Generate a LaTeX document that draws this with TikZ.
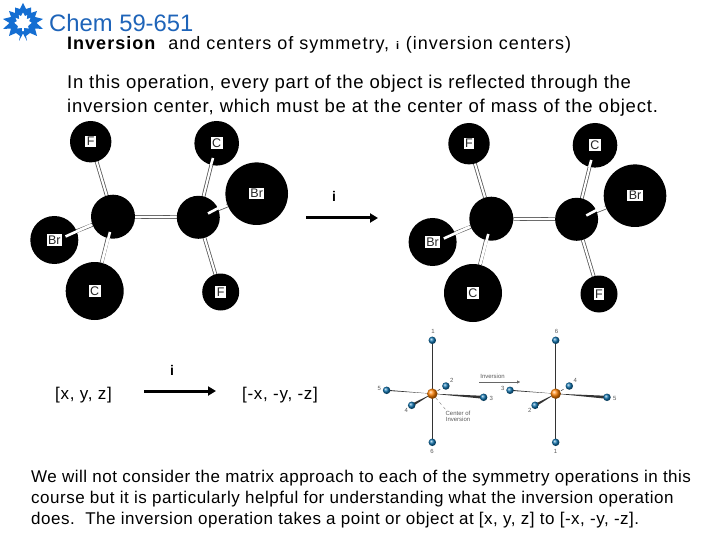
\documentclass[tikz,border=0pt]{standalone}
\usepackage{fontspec}
\setmainfont{Liberation Sans}
\usetikzlibrary{arrows.meta,calc}
\definecolor{chemblue}{RGB}{30,100,185}
\definecolor{logoblue}{RGB}{20,110,210}
\definecolor{sphereblue}{RGB}{15,115,175}
\definecolor{labgray}{RGB}{90,90,90}
\newcommand{\fs}[1]{\fontsize{#1}{#1}\selectfont}
\newcommand{\ls}[1]{\addfontfeatures{LetterSpace=#1}}
\tikzset{
  x=1pt,y=-1pt,
  txt/.style={anchor=base west,inner sep=0pt,text=black},
  atom/.style={circle,fill=black,draw=none,minimum size=#1,inner sep=0pt,outer sep=0pt},
  tag/.style={fill=white,inner sep=1.5pt,font=\fs{12.5},text=black!85},
  bond/.style={draw=black!65,line width=0.8pt,double=white,double distance=2.1pt,line cap=butt},
  bondw/.style={draw=white,line width=2.6pt,line cap=butt},
  bigarrow/.style={line width=3pt,-{Triangle[length=8pt,width=9pt]}},
  ball/.style={circle,ball color=sphereblue,minimum size=7.5pt,inner sep=0pt,outer sep=0pt},
  hub/.style={circle,ball color=orange,minimum size=10.5pt,inner sep=0pt,outer sep=0pt},
  stick/.style={draw=black!80,line width=1pt},
  small/.style={inner sep=0pt,font=\fs{6},text=labgray},
}
\pgfdeclarelayer{bonds}
\pgfsetlayers{bonds,main}
% #1 prefix, #2 shift
\newcommand{\molecule}[2]{%
\begin{scope}[shift={#2}]
  \node[atom=41.4pt] (#1f1) at (90.7,141.7) {};
  \node[atom=44.6pt] (#1c1) at (216.7,143.3) {};
  \node[atom=62.6pt] (#1br1) at (256.7,193.7) {};
  \node[atom=44pt] (#1ca) at (113,216.7) {};
  \node[atom=43pt] (#1cb) at (198.3,217.3) {};
  \node[atom=48pt] (#1br2) at (54.3,240) {};
  \node[atom=58pt] (#1c2) at (94.7,291) {};
  \node[atom=37pt] (#1f2) at (220.7,292) {};
  \node[tag] at (#1f1) {F};
  \node[tag] at (#1c1) {C};
  \node[tag] at (#1br1) {Br};
  \node[tag] at (#1br2) {Br};
  \node[tag] at (#1c2) {C};
  \node[tag] at (#1f2) {F};
  \begin{pgfonlayer}{bonds}
    \draw[bond] (#1f1) -- (#1ca);
    \draw[bond] (#1c1) -- (#1cb);
    \draw[bond] (#1br1) -- (#1cb);
    \draw[bond] (#1ca) -- (#1cb);
    \draw[bond] (#1br2) -- (#1ca);
    \draw[bond] (#1c2) -- (#1ca);
    \draw[bond] (#1f2) -- (#1cb);
  \end{pgfonlayer}
  \coordinate (#1s1) at (65.5,236.5);
  \coordinate (#1s2) at (91,225);
  \coordinate (#1s3) at (110,232);
  \coordinate (#1s4) at (102,262);
  \coordinate (#1s5) at (213,158);
  \coordinate (#1s6) at (211,165);
  \coordinate (#1s7) at (208,213.5);
  \coordinate (#1s8) at (226,204);
  \draw[bondw] (#1s1) -- (#1s2);
  \draw[bondw] (#1s3) -- (#1s4);
  \draw[bondw] (#1s5) -- (#1s6);
  \draw[bondw] (#1s7) -- (#1s8);
\end{scope}}
% wedge from hub to ball
\newcommand{\wedgeh}[3]{\fill[black!80] (#1) -- ($(#2)+(0,-#3)$) -- ($(#2)+(0,#3)$) -- cycle;}
\newcommand{\wedgev}[3]{\fill[black!80] (#1) -- ($(#2)+(#3,#3)$) -- ($(#2)+(-#3,-#3)$) -- cycle;}
% #1 prefix #2 x of hub; #3 top #4 upper #5 right #6 lower #7 left #8 bottom
\newcommand{\octa}[8]{%
\begin{scope}[shift={(#2,393.7)}]
  \coordinate (#1c) at (0,0);
  \node[ball] (#1t) at (0,-53.4) {};
  \node[ball] (#1b) at (0,48.6) {};
  \node[ball] (#1l) at (-45.7,-3.4) {};
  \node[ball] (#1r) at (51.3,3.6) {};
  \node[ball] (#1u) at (13.6,-7.7) {};
  \node[ball] (#1d) at (-20.6,11.6) {};
  \begin{pgfonlayer}{bonds}
    \draw[stick] (#1t) -- (#1b);
    \wedgeh{#1c}{#1l}{0.5}
    \wedgeh{#1c}{#1r}{1.5}
    \draw[black!70,line width=0.6pt,dashed] (#1c) -- (#1u);
    \wedgev{#1c}{#1d}{1}
  \end{pgfonlayer}
  \node[hub] (#1h) at (0,0) {};
  \node[small] at (0.8,-62.7) {#3};
  \node[small] at (-0.2,57.5) {#8};
  \node[small] at (-53,-5) {#7};
  \node[small] at (59,4.5) {#5};
  \node[small] at (19.5,-13) {#4};
  \node[small] at (-26,16.5) {#6};
\end{scope}}
\begin{document}
\begin{tikzpicture}
\useasboundingbox (0,0) rectangle (720,540);
\begin{pgfonlayer}{bonds}
\fill[white] (0,0) rectangle (720,540);
\end{pgfonlayer}
% logo
\fill[logoblue] (23,3) -- (26,9) -- (31,7.5) -- (31,13) -- (37,11) -- (35,17) -- (43,19) -- (36.5,23) -- (43,29) -- (35,28.5) -- (37,36) -- (30,33) -- (26,36) -- (27,41) -- (23,33.5) -- (19,41) -- (20,36) -- (16,33) -- (9,36) -- (11,28.5) -- (3,29) -- (9.5,23) -- (3,19) -- (11,17) -- (9,11) -- (15,13) -- (15,7.5) -- (20,9) -- cycle;
\begin{scope}[shift={(23,22)},scale=.82,shift={(-23,-22)}]
\fill[white] (23,10.5) -- (25.5,15) -- (28,13.5) -- (27.5,18.5) -- (32,17) -- (30.5,21) -- (33.5,23) -- (29,27) -- (30,30) -- (24,29) -- (24,33) -- (22,33) -- (22,29) -- (16,30) -- (17,27) -- (12.5,23) -- (15.5,21) -- (14,17) -- (18.5,18.5) -- (18,13.5) -- (20.5,15) -- cycle;
\end{scope}
% titles
\node[txt,text=chemblue,font=\fs{23.8}] (title) at (49,32) {Chem 59-651};
\node[txt,font=\fs{18}\ls{5.6}] (head) at (67,50) {\textbf{Inversion}\ \ and centers of symmetry, {\fs{11}\textbf{i}} (inversion centers)};
\node[txt,font=\fs{18.5}\ls{3.9}] (p1) at (67,89) {In this operation, every part of the object is reflected through the};
\node[txt,font=\fs{18.5}\ls{4.3}] (p2) at (67,113) {inversion center, which must be at the center of mass of the object.};
% molecules
\molecule{L}{(0,0)}
\molecule{R}{(378.3,2)}
% arrows
\coordinate (a1s) at (306,218);
\coordinate (a1e) at (378,218);
\draw[bigarrow] (a1s) -- (a1e);
\node[txt,font=\fs{14}\bfseries] (i1) at (332,202) {i};
\coordinate (a2s) at (144,391);
\coordinate (a2e) at (216,391);
\draw[bigarrow] (a2s) -- (a2e);
\node[txt,font=\fs{14}\bfseries] (i2) at (170,375) {i};
\node[txt,font=\fs{17}\ls{4}] (v1) at (55,399) {[x, y, z]};
\node[txt,font=\fs{17}\ls{4}] (v2) at (242,399) {[-x, -y, -z]};
% octahedra
\octa{A}{432.3}{1}{2}{3}{4}{5}{6}
\octa{B}{555.7}{6}{4}{5}{2}{3}{1}
\coordinate (inva) at (479,382);
\coordinate (invb) at (520,382);
\draw[black!60,line width=0.4pt,-{Triangle[length=3pt,width=3pt]}] (inva) -- (invb);
\node[small] (invl) at (492.5,376) {Inversion};
\node[small,align=center] (cen) at (458,416.5) {Center of\\Inversion};
\coordinate (lead) at (446,410);
\draw[black!50,line width=0.4pt,dashed] (Ah) -- (lead);
% paragraph
\node[txt,font=\fs{17}\ls{3}] (q1) at (31,482) {We will not consider the matrix approach to each of the symmetry operations in this};
\node[txt,font=\fs{17}\ls{3}] (q2) at (31,503) {course but it is particularly helpful for understanding what the inversion operation};
\node[txt,font=\fs{17}\ls{3}] (q3) at (31,524) {does.\ \ The inversion operation takes a point or object at [x, y, z] to [-x, -y, -z].};
\end{tikzpicture}
\end{document}
